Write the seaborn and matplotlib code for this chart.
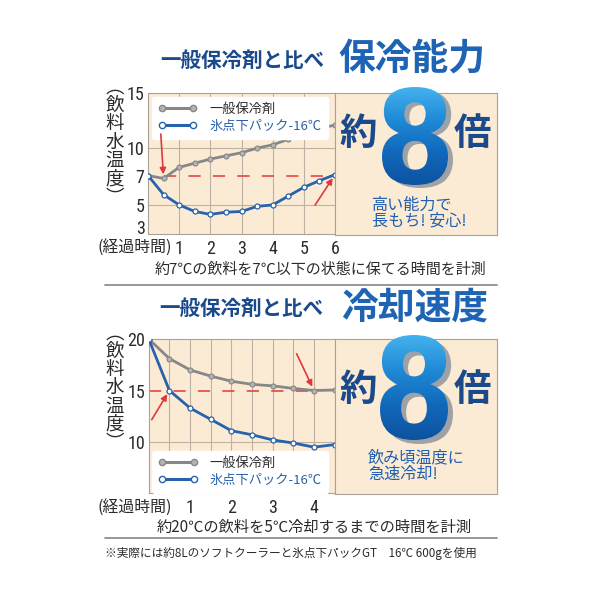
import numpy as np
import matplotlib
matplotlib.use("Agg")
import matplotlib.pyplot as plt
import seaborn as sns
from matplotlib.lines import Line2D
from matplotlib.textpath import TextPath
from matplotlib.font_manager import FontProperties, fontManager
from matplotlib.patches import PathPatch
from matplotlib.transforms import Affine2D
from matplotlib.colors import LinearSegmentedColormap

# ---------------- data ----------------
series_names = ["一般保冷剤", "氷点下パック-16℃"]

hours_top = [0, 0.5, 1, 1.5, 2, 2.5, 3, 3.5, 4, 4.5, 5, 5.5, 6]
gray_top = [7.0, 6.8, 7.9, 8.35, 8.8, 9.15, 9.5, 10.0, 10.3, 10.8, 11.3, 11.75, 12.1]
blue_top = [7.0, 5.7, 5.0, 4.55, 4.35, 4.5, 4.55, 4.9, 5.0, 5.6, 6.2, 6.65, 7.1]
yticks_top = [3, 5, 7, 10, 15]
xticks_top = [1, 2, 3, 4, 5, 6]
grid_top_y = [5, 10]
threshold_top = 7

hours_bot = [0, 0.5, 1, 1.5, 2, 2.5, 3, 3.5, 4, 4.5]
gray_bot = [20, 18.1, 17.0, 16.4, 15.9, 15.6, 15.45, 15.2, 15.0, 15.05]
blue_bot = [20, 15.0, 13.3, 12.2, 11.1, 10.7, 10.2, 9.9, 9.5, 9.75]
yticks_bot = [10, 15, 20]
xticks_bot = [1, 2, 3, 4]
grid_bot_y = [10]
threshold_bot = 15

# non-uniform vertical scale of the upper chart (value -> relative height)
scale_vals = [3, 5, 7, 10, 15]
scale_pos = [0, 87, 175, 257, 422]

# ---------------- style ----------------
sns.set_theme(style="white")
JP = "Noto Sans CJK JP"
plt.rcParams["font.family"] = [JP, "DejaVu Sans"]
plt.rcParams["axes.unicode_minus"] = False

avail = {f.name for f in fontManager.ttflist}
NUM_FONT = next((f for f in ["Liberation Sans Narrow", "Roboto Condensed", "Open Sans Condensed",
                             "DejaVu Sans"] if f in avail), "DejaVu Sans")

BEIGE = "#fcebd4"
GRID = "#bcb1a2"
SPINE = "#a8a29a"
GRAY = "#878787"
GRAY_M = "#b4b4b4"
BLUE = "#2762ad"
RED = "#e0393c"
NAVY = "#1b4a8c"
TITLE_BLUE = "#1e63b4"
TXT = "#2b2b2b"

W = H = 600
fig = plt.figure(figsize=(6, 6), dpi=100)
fig.patch.set_facecolor("white")


def rect(x0, y0, x1, y1):
    return [x0 / W, 1 - y1 / H, (x1 - x0) / W, (y1 - y0) / H]


ax1 = fig.add_axes(rect(148, 93, 335, 234))
pan1 = fig.add_axes(rect(335, 93, 497.5, 234.5))
ax2 = fig.add_axes(rect(148.7, 339, 334.7, 493))
pan2 = fig.add_axes(rect(334.7, 339, 497.5, 494))

for a in (ax1, ax2, pan1, pan2):
    a.set_facecolor(BEIGE)
    for s in a.spines.values():
        s.set_color(SPINE)
        s.set_linewidth(0.8)
for p in (pan1, pan2):
    p.set_xticks([])
    p.set_yticks([])


def draw_lines(ax, x, g, b):
    sns.lineplot(x=x, y=g, ax=ax, color=GRAY, lw=2.0, marker="o", markersize=3.6,
                 markerfacecolor=GRAY_M, markeredgecolor=GRAY, markeredgewidth=0.8,
                 legend=False, zorder=3)
    sns.lineplot(x=x, y=b, ax=ax, color=BLUE, lw=2.0, marker="o", markersize=3.6,
                 markerfacecolor="white", markeredgecolor=BLUE, markeredgewidth=0.9,
                 legend=False, zorder=4)


def legend(ax, anchor, loc):
    hs = [Line2D([0], [0], color=GRAY, lw=2.2, marker="o", ms=4.5, mfc=GRAY_M, mec=GRAY),
          Line2D([0], [0], color=BLUE, lw=2.2, marker="o", ms=4.5, mfc="white", mec=BLUE)]
    leg = ax.legend(hs, series_names, loc=loc, bbox_to_anchor=anchor, mode="expand",
                    borderaxespad=0, numpoints=2, handlelength=3.0, handletextpad=0.9,
                    fontsize=9.5, frameon=True, facecolor="white", edgecolor="white",
                    framealpha=1, fancybox=True, labelspacing=0.35, borderpad=0.45)
    leg.get_texts()[0].set_color(TXT)
    leg.get_texts()[1].set_color(BLUE)
    leg.set_zorder(6)


def style_axis(ax):
    ax.tick_params(length=0, labelsize=13, labelcolor=TXT, labelfontfamily=NUM_FONT)
    ax.tick_params(axis="x", pad=4)
    ax.tick_params(axis="y", pad=2.5)
    ax.set_xlabel("")
    ax.set_ylabel("")


# ---------- upper chart ----------
draw_lines(ax1, hours_top, gray_top, blue_top)
fwd = lambda v: np.interp(v, scale_vals, scale_pos)
inv = lambda u: np.interp(u, scale_pos, scale_vals)
ax1.set_yscale("function", functions=(fwd, inv))
ax1.set_xlim(hours_top[0], hours_top[-1])
ax1.set_ylim(yticks_top[0], yticks_top[-1])
ax1.set_yticks(yticks_top)
ax1.set_yticks([], minor=True)
ax1.set_xticks(xticks_top)
ax1.grid(False)
for v in xticks_top[:-1]:
    ax1.axvline(v, color=GRID, lw=0.8, zorder=1)
for v in grid_top_y:
    ax1.axhline(v, color=GRID, lw=0.8, zorder=1)
ax1.hlines(threshold_top, hours_top[1], hours_top[-1], colors=RED, lw=1.1,
           linestyles=(0, (8, 8)), zorder=2)
style_axis(ax1)
# the lowest label sits on its baseline so it stays clear of the time caption
ax1.get_yticklabels()[0].set_va("baseline")
legend(ax1, (0.02, 0.72, 0.94, 0.255), "upper left")

arrow = dict(arrowstyle="-|>", color=RED, lw=1.2, mutation_scale=9, shrinkA=0, shrinkB=3)
ax1.annotate("", xy=(hours_top[1], gray_top[1]), xytext=(-2, 32), textcoords="offset points",
             arrowprops=arrow, zorder=7)
ax1.annotate("", xy=(hours_top[-1], blue_top[-1]), xytext=(-14.4, -22), textcoords="offset points",
             arrowprops=arrow, zorder=7)

# ---------- lower chart ----------
draw_lines(ax2, hours_bot, gray_bot, blue_bot)
ax2.set_xlim(hours_bot[0], hours_bot[-1])
ax2.set_ylim(5.05, yticks_bot[-1])
ax2.set_yticks(yticks_bot)
ax2.set_xticks(xticks_bot)
ax2.grid(False)
for v in hours_bot[1:-1]:
    ax2.axvline(v, color=GRID, lw=0.8, zorder=1)
for v in grid_bot_y:
    ax2.axhline(v, color=GRID, lw=0.8, zorder=1)
ax2.hlines(threshold_bot, hours_bot[0], hours_bot[-2], colors=RED, lw=1.1,
           linestyles=(0, (8, 8)), zorder=2)
style_axis(ax2)
legend(ax2, (0.02, 0.0, 0.945, 0.25), "lower left")
ax2.annotate("", xy=(hours_bot[1], blue_bot[1]), xytext=(-12.7, -21), textcoords="offset points",
             arrowprops=arrow, zorder=7)
ax2.annotate("", xy=(hours_bot[-2], gray_bot[-2]), xytext=(-12.5, 26.4), textcoords="offset points",
             arrowprops=arrow, zorder=7)

# ---------- overlay (pixel coordinates, y downward) ----------
ov = fig.add_axes([0, 0, 1, 1])
ov.set_zorder(10)
ov.patch.set_alpha(0)
ov.axis("off")

EIGHT_CMAP = LinearSegmentedColormap.from_list("eight", ["#45b2ef", "#1f8ad6", "#1168bb", "#0c53a0"])


def big_eight(x0, y0, x1, y1, dx, dy):
    fp = FontProperties(family="DejaVu Sans", weight="bold")
    tp = TextPath((0, 0), "8", size=100, prop=fp)
    bb = tp.get_extents()
    tr = (Affine2D().translate(-bb.x0, -bb.y0)
          .scale((x1 - x0) / bb.width, -(y1 - y0) / bb.height).translate(x0, y1))
    path = tr.transform_path(tp)
    shadow = PathPatch(Affine2D().translate(dx, dy).transform_path(path), fc="#9ea2a7",
                       ec="none", transform=ov.transData, zorder=11)
    ov.add_patch(shadow)
    clip = PathPatch(path, fc="none", ec="none", transform=ov.transData, zorder=11)
    ov.add_patch(clip)
    grad = np.linspace(0, 1, 256).reshape(-1, 1)
    im = ov.imshow(grad, cmap=EIGHT_CMAP, extent=(x0, x1, y1, y0), origin="upper",
                   aspect="auto", zorder=12, interpolation="bilinear")
    im.set_clip_path(clip)


big_eight(382, 87, 448, 185, 5, 3)
big_eight(380, 335, 448, 440, 5, 4)
ov.set_xlim(0, W)
ov.set_ylim(H, 0)

# titles
ov.text(242, 60, "一般保冷剤と比べ", ha="center", va="center", fontsize=14.8, weight="bold", color=NAVY)
ov.text(412, 59, "保冷能力", ha="center", va="center", fontsize=26.5, weight="bold", color=TITLE_BLUE)
ov.text(241, 308, "一般保冷剤と比べ", ha="center", va="center", fontsize=14.8, weight="bold", color=NAVY)
ov.text(415, 308, "冷却速度", ha="center", va="center", fontsize=26.5, weight="bold", color=TITLE_BLUE)

# panel texts
for yc in (134, 389):
    ov.text(358, yc, "約", ha="center", va="center", fontsize=27, weight="bold", color=NAVY)
    ov.text(472, yc, "倍", ha="center", va="center", fontsize=27, weight="bold", color=NAVY)
ov.text(372, 205, "高い能力で", ha="left", va="center", fontsize=11.6, color="#1f5fb0")
ov.text(372, 221, "長もち! 安心!", ha="left", va="center", fontsize=11.6, color="#1f5fb0")
ov.text(368, 458, "飲み頃温度に", ha="left", va="center", fontsize=11.6, color="#1f5fb0")
ov.text(368, 474, "急速冷却!", ha="left", va="center", fontsize=11.6, color="#1f5fb0")

# vertical y-axis labels
ylab = ["︵", "飲", "料", "水", "温", "度", "︶"]
for yc in (142.5, 388):
    for i, ch in enumerate(ylab):
        ov.text(115, yc + (i - 3) * 18.3, ch, ha="center", va="center", fontsize=13.3, color=TXT)

# x-axis word
ov.text(172, 248.5, "(経過時間)", ha="right", va="center", fontsize=11.4, color=TXT)
ov.text(172, 508, "(経過時間)", ha="right", va="center", fontsize=11.4, color=TXT)

# captions and separators
ov.text(320, 270, "約7℃の飲料を7℃以下の状態に保てる時間を計測", ha="center", va="center",
        fontsize=10.8, color=TXT)
ov.plot([105, 497], [285, 285], color="#8f8f8f", lw=1.3)
ov.text(314, 527, "約20℃の飲料を5℃冷却するまでの時間を計測", ha="center", va="center",
        fontsize=11, color=TXT)
ov.plot([105, 497], [538, 538], color="#8f8f8f", lw=1.3)
ov.text(105, 553, "※実際には約8Lのソフトクーラーと氷点下パックGT\u300016℃ 600gを使用", ha="left",
        va="center", fontsize=8.4, color=TXT)
ov.set_xlim(0, W)
ov.set_ylim(H, 0)

fig.savefig("out.png", dpi=100)
